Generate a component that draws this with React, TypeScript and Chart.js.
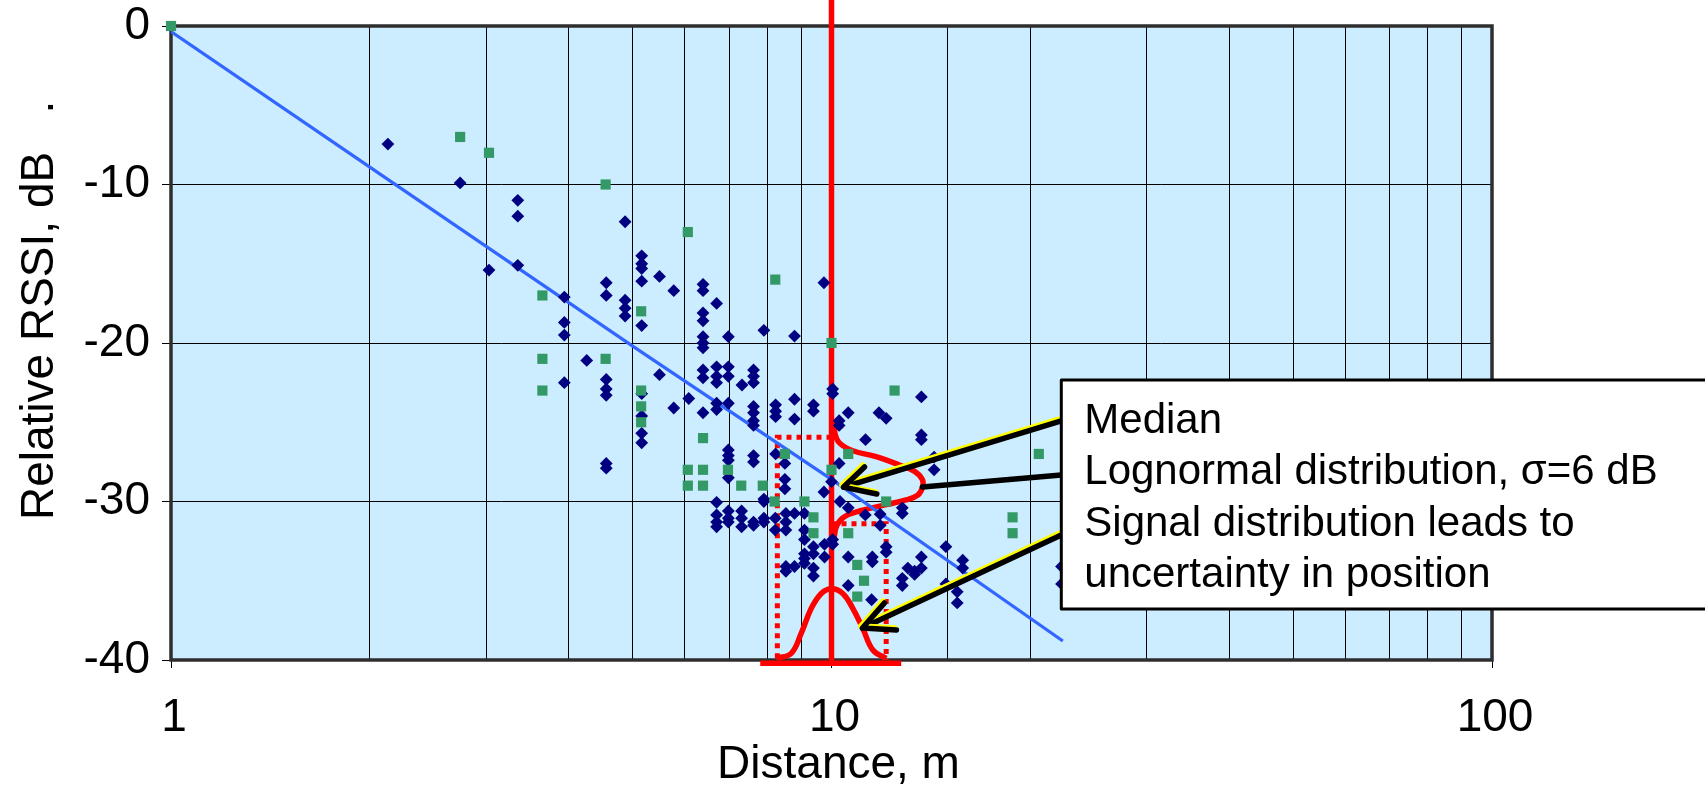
import React, { useEffect, useRef } from 'react';
import { Chart, registerables } from 'chart.js';

Chart.register(...registerables);

// ---------- data ----------
const X_MIN = 1;
const X_MAX = 100;
const Y_MIN = -40;
const Y_MAX = 0;
const Y_STEP = 10;
const X_LABELED_TICKS = [1, 10, 100];

const X_TITLE = 'Distance, m';
const Y_TITLE = 'Relative RSSI, dB   .';

// navy diamonds
const BLUE_POINTS: [number, number][] = [
  [2.13, -7.45], [2.74, -9.9], [3.35, -11.0], [3.35, -12.0], [3.03, -15.4], [3.35, -15.1],
  [3.94, -17.1], [3.94, -18.7], [3.94, -19.5], [3.94, -22.5], [4.26, -21.1],
  [4.56, -16.2], [4.56, -17.0], [4.56, -22.3], [4.56, -22.9], [4.56, -23.3], [4.56, -27.6], [4.56, -27.9],
  [4.87, -12.35], [4.87, -17.3], [4.87, -17.8], [4.87, -18.3],
  [5.16, -14.5], [5.16, -15.0], [5.16, -15.3], [5.16, -16.1], [5.16, -18.9], [5.16, -23.2], [5.16, -24.6], [5.16, -25.7], [5.16, -26.3],
  [5.49, -15.8], [5.49, -22.0], [5.77, -16.7], [5.77, -24.1], [6.08, -23.5],
  [6.39, -16.3], [6.39, -16.7], [6.39, -18.1], [6.39, -18.6], [6.39, -19.6], [6.39, -20.0], [6.39, -20.3], [6.39, -21.7], [6.39, -22.2], [6.39, -24.4],
  [6.7, -17.5], [6.7, -21.5], [6.7, -22.1], [6.7, -22.5], [6.7, -23.8], [6.7, -24.2],
  [6.98, -19.6], [6.98, -21.5], [6.98, -22.1], [6.98, -23.8], [6.98, -26.75], [6.98, -27.1], [6.98, -27.4], [6.98, -28.5],
  [7.32, -22.65],
  [7.62, -21.7], [7.62, -22.1], [7.62, -22.5], [7.62, -24.0], [7.62, -24.4], [7.62, -24.9], [7.62, -25.2], [7.62, -27.1], [7.62, -27.5],
  [7.9, -19.2], [8.23, -23.9], [8.23, -24.3], [8.23, -24.65], [8.23, -27.0],
  [8.5, -27.6], [8.5, -28.6], [8.5, -29.2], [8.79, -19.56], [8.79, -23.55], [8.79, -24.8],
  [9.39, -23.9], [9.39, -24.3], [9.74, -16.2], [10.04, -22.9], [10.04, -23.2],
  [10.27, -24.9], [10.27, -25.2], [10.6, -24.4], [10.27, -27.6], [10.0, -28.75], [9.74, -29.4],
  [11.26, -26.1], [11.8, -24.4], [12.1, -24.75],
  [6.7, -30.05], [6.7, -30.85], [6.7, -31.3], [6.7, -31.6],
  [6.98, -30.6], [6.98, -31.05], [6.98, -31.3],
  [7.31, -30.6], [7.31, -31.05], [7.31, -31.6], [7.62, -31.3], [7.62, -31.5],
  [7.9, -29.85], [7.9, -30.0], [7.9, -31.05], [7.9, -31.3],
  [8.22, -31.05], [8.22, -31.8],
  [8.53, -30.75], [8.53, -31.3], [8.53, -31.8], [8.53, -34.1], [8.53, -34.4],
  [8.79, -30.75], [8.79, -34.1],
  [9.1, -30.75], [9.1, -31.8], [9.1, -32.4], [9.1, -33.3], [9.1, -33.6], [9.1, -33.9],
  [9.39, -32.85], [9.39, -33.3], [9.39, -34.2], [9.39, -34.7],
  [9.76, -32.7], [9.76, -33.5], [10.3, -30.0], [10.6, -30.4], [10.04, -32.4], [10.04, -32.7],
  [10.6, -33.5], [10.6, -35.3], [11.53, -33.5], [11.53, -33.8], [11.5, -36.2],
  [11.85, -30.8], [11.85, -31.5], [11.25, -30.85], [12.1, -32.85], [12.1, -33.2],
  [12.8, -30.4], [12.8, -30.75], [12.8, -34.85], [12.8, -35.3],
  [13.05, -34.2], [13.36, -34.4], [13.36, -34.6], [13.68, -33.5], [13.68, -34.2],
  [13.68, -23.4], [13.68, -25.8], [13.68, -26.1], [14.3, -27.2], [14.3, -28.0],
  [14.9, -32.85], [14.9, -35.2], [15.5, -35.7], [15.5, -36.4], [15.8, -33.7], [15.8, -34.2],
  [22.3, -34.1], [22.3, -35.2],
];

// green squares
const GREEN_POINTS: [number, number][] = [
  [1, 0], [2.74, -7.0], [3.03, -8.0], [4.55, -10.0], [6.06, -13.0], [8.22, -16.0],
  [3.65, -17.0], [5.15, -18.0], [10, -20.0], [3.65, -21.0], [4.55, -21.0], [3.65, -23.0],
  [5.15, -23.0], [12.46, -23.0], [5.15, -24.0], [5.15, -25.0], [6.39, -26.0], [8.5, -27.0],
  [10.6, -27.0], [20.6, -27.0], [6.06, -28.0], [6.39, -28.0], [6.97, -28.0], [10, -28.0],
  [6.06, -29.0], [6.39, -29.0], [7.3, -29.0], [7.87, -29.0], [8.2, -30.0], [9.1, -30.0],
  [12.1, -30.0], [9.39, -31.0], [18.8, -31.0], [9.39, -32.0], [10.6, -32.0], [18.8, -32.0],
  [10.94, -34.0], [11.2, -35.0], [10.94, -36.0],
];

// fitted median line
const TREND_LINE: [number, number][] = [
  [1, -0.35], [2, -8.9], [3, -13.9], [5, -20.2], [10, -28.6], [22.4, -38.8],
];

// red overlay shapes (data coordinates)
const MEDIAN_MARKER: [number, number][] = [[10, 1.7], [10, -40.2]];
const BASE_BAR: [number, number][] = [[7.8, -40.2], [12.75, -40.2]];
const LEFT_BOUND: [number, number][] = [[10, -25.95], [8.28, -25.95], [8.28, -40]];
const RIGHT_BOUND: [number, number][] = [[10, -31.4], [12.1, -31.4], [12.1, -40]];
const POSITION_CURVE: [number, number][] = [
  [8.25, -39.9], [8.69, -39.58], [9.0, -38.3], [9.32, -36.74], [9.65, -35.8], [10.0, -35.5],
  [10.4, -35.8], [10.77, -36.74], [11.15, -38.0], [11.55, -39.37], [12.1, -39.9],
];
const SIGNAL_CURVE: [number, number][] = [
  [10.1, -24.86], [10.12, -25.7], [10.28, -26.3], [10.77, -26.8], [11.68, -27.17], [12.67, -27.7],
  [13.36, -28.1], [13.72, -28.6], [13.74, -29.07], [13.51, -29.6], [12.97, -29.9], [12.1, -30.2],
  [11.03, -30.6], [10.46, -30.96], [10.19, -31.5], [10.1, -32.2], [10.08, -32.85],
];

// callout
const NOTE_LINES = [
  'Median',
  'Lognormal distribution, \u03c3=6 dB',
  'Signal distribution leads to',
  'uncertainty in position',
];
const NOTE_BOX = { x: 22.28, yTop: -22.33, yBottom: -36.78 };
const MEDIAN_ARROW: [number, number][] = [[22.28, -24.92], [10.43, -29.09]];
const MEDIAN_HEAD: [number, number][] = [[11.22, -27.82], [10.43, -29.09], [11.71, -29.53]];
const SIGMA_LEADER: [number, number][] = [[22.28, -28.33], [13.73, -29.09]];
const SPREAD_ARROW: [number, number][] = [[22.28, -32.11], [11.14, -37.98]];
const SPREAD_HEAD: [number, number][] = [[12.03, -36.4], [11.14, -37.98], [12.54, -38.1]];

const FONT = '"Liberation Sans", Arial, Helvetica, sans-serif';

const toXY = (arr: [number, number][]) => arr.map(([x, y]) => ({ x, y }));

const overlayPlugin = {
  id: 'overlay',
  beforeDraw(chart: any) {
    const { ctx, chartArea: a } = chart;
    ctx.save();
    ctx.fillStyle = '#CCECFF';
    ctx.fillRect(a.left, a.top, a.right - a.left, a.bottom - a.top);
    ctx.restore();
  },
  beforeDatasetsDraw(chart: any) {
    const { ctx, chartArea: a } = chart;
    ctx.save();
    ctx.strokeStyle = '#2e2e2e';
    ctx.lineWidth = 3.5;
    ctx.strokeRect(a.left, a.top, a.right - a.left, a.bottom - a.top);
    ctx.restore();
  },
  afterDatasetsDraw(chart: any) {
    const { ctx } = chart;
    const xs = chart.scales.x;
    const ys = chart.scales.y;
    const P = ([x, y]: [number, number]) => [xs.getPixelForValue(x), ys.getPixelForValue(y)];

    const path = (pts: [number, number][], dx: number, dy: number) => {
      ctx.beginPath();
      pts.forEach((p, i) => {
        const [px, py] = P(p);
        if (i === 0) ctx.moveTo(px + dx, py + dy);
        else ctx.lineTo(px + dx, py + dy);
      });
      ctx.stroke();
    };
    const arrow = (pts: [number, number][], yellow: boolean) => {
      ctx.lineCap = 'round';
      ctx.lineJoin = 'round';
      if (yellow) {
        ctx.strokeStyle = '#FFFF00';
        ctx.lineWidth = 5.5;
        path(pts, -1.5, -2);
      }
      ctx.strokeStyle = '#000000';
      ctx.lineWidth = 5.5;
      path(pts, 0, 0);
    };

    ctx.save();
    arrow(MEDIAN_ARROW, true);
    arrow(MEDIAN_HEAD, true);
    arrow(SIGMA_LEADER, false);
    arrow(SPREAD_ARROW, true);
    arrow(SPREAD_HEAD, true);

    // callout box
    const bx = xs.getPixelForValue(NOTE_BOX.x);
    const bt = ys.getPixelForValue(NOTE_BOX.yTop);
    const bb = ys.getPixelForValue(NOTE_BOX.yBottom);
    ctx.fillStyle = '#FFFFFF';
    ctx.fillRect(bx, bt, chart.width + 20 - bx, bb - bt);
    ctx.strokeStyle = '#000000';
    ctx.lineWidth = 3;
    ctx.strokeRect(bx, bt, chart.width + 20 - bx, bb - bt);
    ctx.fillStyle = '#000000';
    ctx.font = `42px ${FONT}`;
    ctx.textAlign = 'left';
    ctx.textBaseline = 'alphabetic';
    NOTE_LINES.forEach((t, i) => ctx.fillText(t, bx + 23, bt + 53 + i * 51.3));

    // axis titles
    const a = chart.chartArea;
    ctx.font = `46px ${FONT}`;
    ctx.textAlign = 'center';
    ctx.fillText(X_TITLE, (a.left + a.right) / 2 + 7, 778);
    ctx.save();
    ctx.translate(53, 520);
    ctx.rotate(-Math.PI / 2);
    ctx.textAlign = 'left';
    ctx.fillText(Y_TITLE, 0, 0);
    ctx.restore();
    ctx.restore();
  },
};

export default function App() {
  const ref = useRef<HTMLCanvasElement | null>(null);

  useEffect(() => {
    const canvas = ref.current;
    if (!canvas) return;
    document.body.style.margin = '0';
    Chart.defaults.font.family = FONT;

    const redLine = (data: [number, number][], width: number, extra: any = {}) => ({
      type: 'line' as const,
      data: toXY(data),
      borderColor: '#FF0000',
      backgroundColor: '#FF0000',
      borderWidth: width,
      pointRadius: 0,
      fill: false,
      clip: false,
      order: 5,
      ...extra,
    });

    const chart = new Chart(canvas, {
      type: 'scatter',
      data: {
        datasets: [
          {
            type: 'scatter',
            label: 'green',
            data: toXY(GREEN_POINTS),
            pointStyle: 'rect',
            pointRadius: 7.2,
            backgroundColor: '#339966',
            borderWidth: 0,
            clip: false,
            order: 0,
          },
          {
            type: 'scatter',
            label: 'blue',
            data: toXY(BLUE_POINTS),
            pointStyle: 'rectRot',
            pointRadius: 6.4,
            backgroundColor: '#000080',
            borderWidth: 0,
            order: 1,
          },
          {
            type: 'line',
            label: 'trend',
            data: toXY(TREND_LINE),
            borderColor: '#3366FF',
            borderWidth: 3.2,
            pointRadius: 0,
            fill: false,
            order: 2,
          },
          redLine(MEDIAN_MARKER, 5.5),
          redLine(BASE_BAR, 5.5),
          redLine(LEFT_BOUND, 5, { borderDash: [5, 5] }),
          redLine(RIGHT_BOUND, 5, { borderDash: [5, 5] }),
          redLine(POSITION_CURVE, 5.5, { tension: 0.4 }),
          redLine(SIGNAL_CURVE, 5.5, { tension: 0.4 }),
        ] as any,
      },
      options: {
        responsive: false,
        animation: false,
        events: [],
        layout: { padding: { left: 0, top: 26, right: 213, bottom: 0 } },
        plugins: {
          legend: { display: false },
          tooltip: { enabled: false },
          title: { display: false },
        },
        scales: {
          x: {
            type: 'logarithmic',
            min: X_MIN,
            max: X_MAX,
            border: { display: false },
            grid: {
              color: '#000000',
              lineWidth: 1,
              tickLength: 8,
              tickColor: (c: any) => {
                const v = c.tick ? Number(c.tick.value) : NaN;
                return X_LABELED_TICKS.some((t) => Math.abs(t - v) < 1e-9) ? '#000000' : 'rgba(0,0,0,0)';
              },
            },
            ticks: {
              autoSkip: false,
              maxRotation: 0,
              minRotation: 0,
              padding: 27,
              labelOffset: 3,
              color: '#000000',
              font: { size: 46, lineHeight: 1 },
              callback: (v: any) => {
                const n = Number(v);
                return X_LABELED_TICKS.some((t) => Math.abs(t - n) < 1e-9) ? String(n) : '';
              },
            },
            afterFit: (s: any) => {
              s.height = 127;
            },
          },
          y: {
            type: 'linear',
            min: Y_MIN,
            max: Y_MAX,
            border: { display: false },
            grid: { color: '#000000', lineWidth: 1, tickLength: 9, tickColor: '#000000' },
            ticks: {
              stepSize: Y_STEP,
              padding: 12,
              color: '#000000',
              font: { size: 46, lineHeight: 0.5 },
              callback: (v: any) => String(v),
            },
            afterFit: (s: any) => {
              s.width = 171;
            },
          },
        },
      },
      plugins: [overlayPlugin],
    });

    return () => chart.destroy();
  }, []);

  return (
    <div style={{ position: 'absolute', left: 0, top: 0, width: 1705, height: 787, background: '#FFFFFF', overflow: 'hidden' }}>
      <canvas ref={ref} width={1705} height={787} style={{ display: 'block', width: 1705, height: 787 }} />
    </div>
  );
}
